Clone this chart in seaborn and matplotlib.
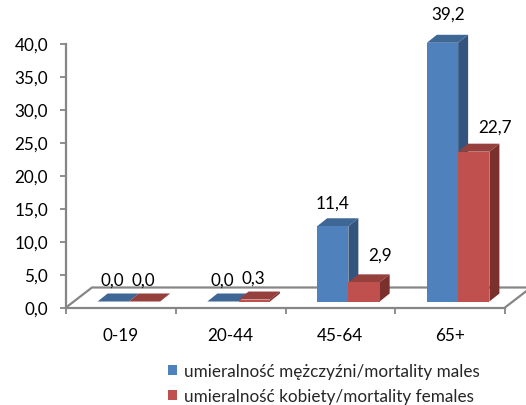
import matplotlib
matplotlib.use('Agg')
import matplotlib.pyplot as plt
from matplotlib.patches import Polygon
import seaborn as sns
import pandas as pd

# values
age_groups = ['0-19', '20-44', '45-64', '65+']
males = [0.0, 0.0, 11.4, 39.2]
females = [0.0, 0.3, 2.9, 22.7]
series_names = ['umieralność mężczyźni/mortality males',
                'umieralność kobiety/mortality females']
y_ticks = [0, 5, 10, 15, 20, 25, 30, 35, 40]

df = pd.DataFrame({
    'age': age_groups * 2,
    'value': males + females,
    'series': [series_names[0]] * 4 + [series_names[1]] * 4,
})

W, H = 526, 406
FONT = 12.3
sns.set_style('white')
plt.rcParams['font.family'] = ['Lato', 'DejaVu Sans']
plt.rcParams['font.size'] = FONT

fig = plt.figure(figsize=(W / 100, H / 100), dpi=100)
# axes box in pixels: x 66-505, y 44.5-308.5
ax = fig.add_axes([66 / W, 1 - 308.5 / H, 439 / W, 264 / H])

front = ['#4F81BD', '#C0504D']
top = ['#3F6796', '#95403D']
side = ['#33547E', '#7C302E']
grey = '#868686'

sns.barplot(data=df, x='age', y='value', hue='series', order=age_groups,
            hue_order=series_names, palette=front, width=0.57, gap=0,
            saturation=1, ax=ax, legend=False)
ax.set_xlim(-0.5, 3.5)
ax.set_ylim(0, 40)

px_x = 4 / 439   # data units per pixel
px_y = 40 / 264

# fake 3D: shift the bars onto the floor, then add top and side faces
shift_x, shift_y = 8 * px_x, 6 * px_y
dx, dy = 10 * px_x, 8 * px_y
for i, cont in enumerate(ax.containers):
    for bar in cont:
        bar.set_x(bar.get_x() + shift_x)
        bar.set_y(shift_y)
        bar.set_clip_on(False)
        bar.set_zorder(3 + i + 0.5)
        bar.set_linewidth(0)
        x0, x1 = bar.get_x(), bar.get_x() + bar.get_width()
        y0, y1 = shift_y, shift_y + bar.get_height()
        ax.add_patch(Polygon([(x0, y1), (x1, y1), (x1 + dx, y1 + dy), (x0 + dx, y1 + dy)],
                             closed=True, fc=top[i], ec='none', clip_on=False, zorder=3 + i))
        ax.add_patch(Polygon([(x1, y0), (x1 + dx, y0 + dy), (x1 + dx, y1 + dy), (x1, y1)],
                             closed=True, fc=side[i], ec='none', clip_on=False, zorder=3 + i))

# floor of the 3D box
floor_x, floor_y = 26 * px_x, 20 * px_y
ax.plot([-0.5, -0.5 + floor_x, 3.5 + floor_x, 3.5],
        [0, floor_y, floor_y, 0], color=grey, lw=1.6, clip_on=False, zorder=2,
        solid_joinstyle='miter')

# value labels, offsets in pixels from the front top of each bar
label_off = [[(-1, 22), (-1, 22)], [(-1, 22), (-1, 22)],
             [(0, 24), (16, 28)], [(6, 29), (21, 25)]]
for i, cont in enumerate(ax.containers):
    for j, bar in enumerate(cont):
        val = (males, females)[i][j]
        xc = bar.get_x() + bar.get_width() / 2
        ax.annotate(f'{val:.1f}'.replace('.', ','), (xc, bar.get_y() + bar.get_height()),
                    xytext=label_off[j][i], textcoords='offset pixels', ha='center', va='center',
                    color='black', annotation_clip=False, zorder=6)

# axes
sns.despine(ax=ax)
for s in ['left', 'bottom']:
    ax.spines[s].set_color(grey)
    ax.spines[s].set_linewidth(1.6)
ax.set_xlabel('')
ax.set_ylabel('')
ax.set_yticks(y_ticks)
ax.set_yticklabels([f'{v:.1f}'.replace('.', ',') for v in y_ticks])
ax.set_xticks([-0.5, 0.5, 1.5, 2.5, 3.5])
ax.set_xticklabels([])
ax.set_xticks([0, 1, 2, 3], minor=True)
ax.set_xticklabels(age_groups, minor=True)
ax.tick_params(axis='y', which='major', left=True, length=4.3, width=1.3, color=grey, pad=8.5, labelcolor='black')
ax.tick_params(axis='x', which='major', bottom=True, length=4, width=1.3, color=grey)
ax.tick_params(axis='x', which='minor', bottom=False, length=0, pad=14, labelcolor='black')

# legend
handles = [plt.Rectangle((0, 0), 1, 1, fc=c, ec='none') for c in front]
fig.legend(handles, series_names, loc='upper left', bbox_to_anchor=(168 / W, 1 - 364 / H),
           frameon=False, handlelength=0.5, handleheight=0.5, handletextpad=0.45,
           labelspacing=0.52, borderpad=0, borderaxespad=0, fontsize=FONT)

fig.savefig('out.png', dpi=100, facecolor='white')
